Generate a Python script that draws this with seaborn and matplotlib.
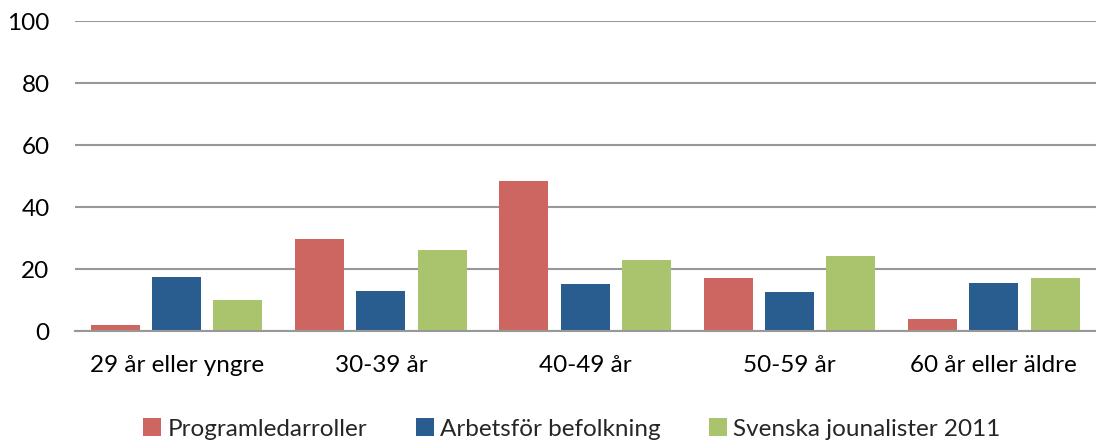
import pandas as pd
import seaborn as sns
import matplotlib.pyplot as plt

categories = ['29 år eller yngre', '30-39 år', '40-49 år', '50-59 år', '60 år eller äldre']
series_names = ['Programledarroller', 'Arbetsför befolkning', 'Svenska jounalister 2011']
programledare = [1.9, 29.7, 48.3, 17.1, 3.8]
arbetsfor = [17.4, 12.9, 15.1, 12.6, 15.7]
journalister = [10.2, 26.1, 23.0, 24.2, 17.1]
colors = ['#CD6660', '#295D8F', '#A9C46C']

rows = []
for name, vals in zip(series_names, [programledare, arbetsfor, journalister]):
    for cat, v in zip(categories, vals):
        rows.append({'kategori': cat, 'serie': name, 'värde': v})
df = pd.DataFrame(rows)

sns.set_style('white')
plt.rcParams['font.family'] = ['Lato', 'DejaVu Sans']

fig = plt.figure(figsize=(10.96, 4.41), dpi=100)
ax = fig.add_axes([0.068, 0.249, 0.932, 0.703])

sns.barplot(data=df, x='kategori', y='värde', hue='serie', palette=colors,
            width=0.9, gap=0.2, saturation=1, linewidth=0, ax=ax, zorder=3)

ax.set_ylim(0, 100)
ax.set_yticks(range(0, 101, 20))
ax.set_xlim(-0.5, 4.5)
ax.grid(axis='y', color='#989898', linewidth=1.5, zorder=0)
for s in ['top', 'right', 'left']:
    ax.spines[s].set_visible(False)
ax.spines['bottom'].set_color('#989898')
ax.spines['bottom'].set_linewidth(1.5)
ax.spines['bottom'].set_zorder(4)
ax.tick_params(axis='both', length=0, labelsize=17.5, colors='black')
ax.tick_params(axis='x', pad=17)
ax.tick_params(axis='y', pad=18)
ax.set_xlabel('')
ax.set_ylabel('')

handles, labels = ax.get_legend_handles_labels()
ax.legend(handles, labels, loc='lower center', bbox_to_anchor=(0.487, -0.42),
          ncol=3, frameon=False, fontsize=17.5, handlelength=0.75, handleheight=0.75,
          handletextpad=0.25, columnspacing=2.0)

fig.savefig('out.png', dpi=100)
